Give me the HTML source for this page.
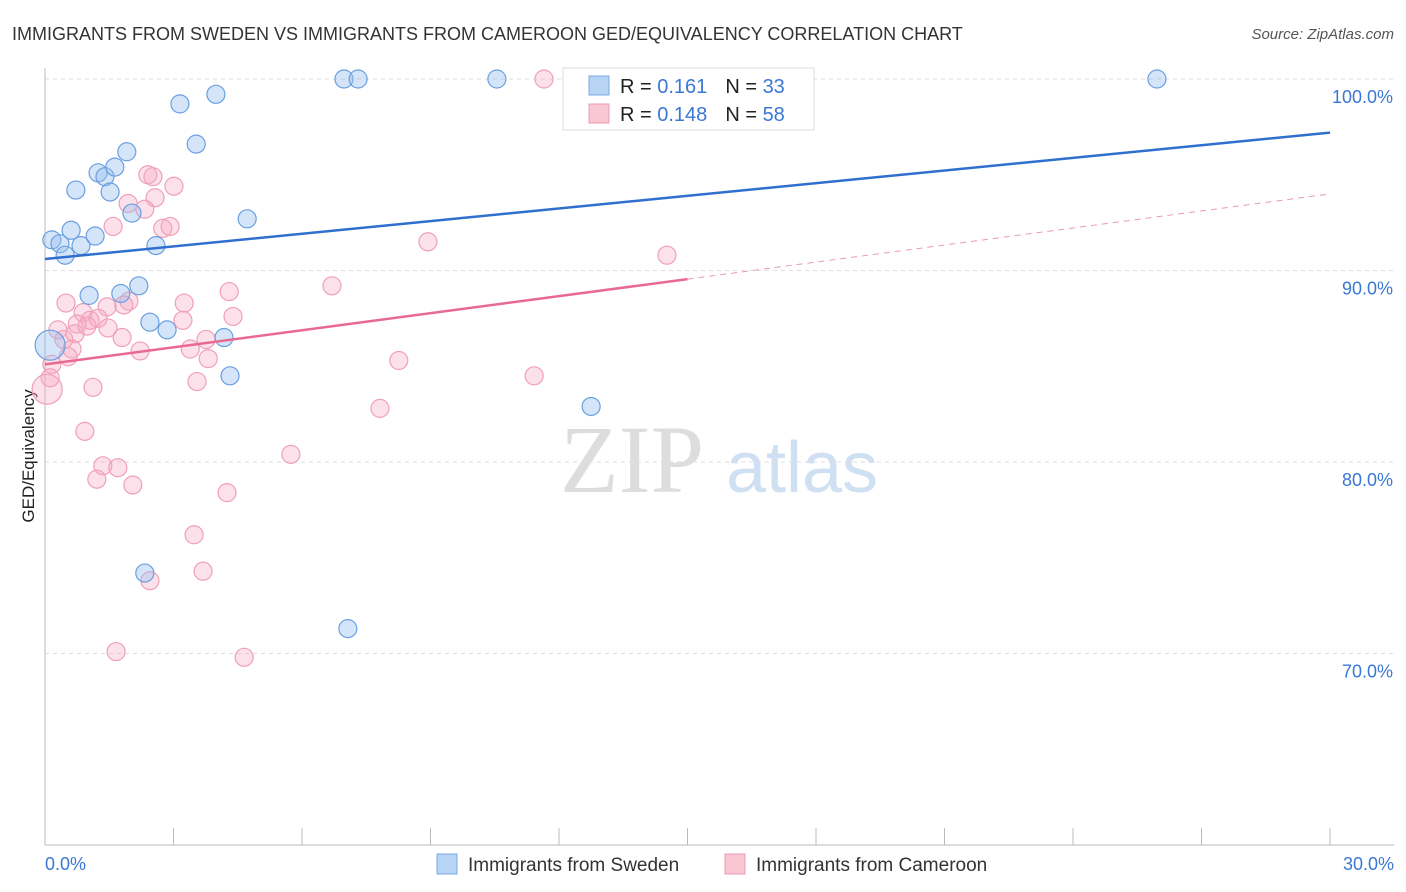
<!DOCTYPE html>
<html><head><meta charset="utf-8"><style>
body{margin:0;background:#fff;font-family:"Liberation Sans",sans-serif}
svg{display:block}
</style></head><body>
<svg id="chart" width="1406" height="892">
<text x="12" y="40" font-size="18" fill="#333">IMMIGRANTS FROM SWEDEN VS IMMIGRANTS FROM CAMEROON GED/EQUIVALENCY CORRELATION CHART</text>
<text x="1394" y="39" font-size="15" fill="#555" font-style="italic" text-anchor="end">Source: ZipAtlas.com</text>
<text x="34" y="456" font-size="17" fill="#222" text-anchor="middle" transform="rotate(-90 34 456)">GED/Equivalency</text>
<text x="632" y="492" font-size="96" fill="#ddd" font-family="Liberation Serif,serif" text-anchor="middle">ZIP</text>
<text x="802" y="492" font-size="72" fill="#cfe0f2" text-anchor="middle">atlas</text>
<g id="grid"></g><g id="axes"></g><g id="pts"></g><g id="lines"></g>
<g>
<rect x="563" y="68" width="251" height="62" fill="#fff" stroke="#ddd"/>
<rect x="589" y="76" width="20" height="19" fill="#b8d4f5" stroke="#7aa9e6"/>
<rect x="589" y="104" width="20" height="19" fill="#f9c6d4" stroke="#ee9ab2"/>
<text x="620" y="93" font-size="20" fill="#222">R = <tspan fill="#3a78d4"> 0.161</tspan><tspan dx="18">N = </tspan><tspan fill="#3a78d4">33</tspan></text>
<text x="620" y="121" font-size="20" fill="#222">R = <tspan fill="#3a78d4">0.148</tspan><tspan dx="18">N = </tspan><tspan fill="#3a78d4">58</tspan></text>
</g>
<g>
<rect x="437" y="854" width="20" height="20" fill="#b8d4f5" stroke="#7aa9e6"/>
<text x="468" y="871" font-size="19" fill="#333">Immigrants from Sweden</text>
<rect x="725" y="854" width="20" height="20" fill="#f9c6d4" stroke="#ee9ab2"/>
<text x="756" y="871" font-size="19" fill="#333">Immigrants from Cameroon</text>
</g>
</svg>
<script>
const xDomain=[0,30];
const yDomain=[60,100];
const yTicks=[100,90,80,70];
const yTickLabels=["100.0%","90.0%","80.0%","70.0%"];
const xEndLabels=["0.0%","30.0%"];
const swedenX=[0.16,0.35,0.47,0.61,0.84,1.17,0.72,1.24,1.40,1.52,1.63,1.91,2.03,2.59,3.15,3.99,3.53,4.72,6.98,7.31,10.55,25.96,1.03,1.77,2.19,2.45,2.85,4.18,4.32,12.75,2.33,7.07,0.12];
const swedenY=[91.6,91.4,90.8,92.1,91.3,91.8,94.2,95.1,94.9,94.1,95.4,96.2,93.0,91.3,98.7,99.2,96.6,92.7,100,100,100,100,88.7,88.8,89.2,87.3,86.9,86.5,84.5,82.9,74.2,71.3,86.1];
const cameroonX=[11.65,2.40,2.52,3.01,1.94,2.33,2.57,1.59,2.75,2.92,8.94,14.52,6.70,4.30,0.49,3.25,1.45,1.96,1.84,0.89,1.05,1.24,4.39,3.22,0.75,0.98,1.47,0.30,0.70,1.80,3.76,0.44,3.39,0.63,2.22,0.54,3.81,8.26,0.16,0.12,11.42,3.55,1.12,0.05,7.82,0.93,5.74,1.35,1.70,1.21,2.05,4.25,3.48,3.69,2.45,1.66,4.65];
const cameroonY=[100,95.0,94.9,94.4,93.5,93.2,93.8,92.3,92.2,92.3,91.5,90.8,89.2,88.9,88.3,88.3,88.1,88.4,88.2,87.8,87.4,87.5,87.6,87.4,87.2,87.1,87.0,86.9,86.7,86.5,86.4,86.4,85.9,85.9,85.8,85.5,85.4,85.3,85.1,84.4,84.5,84.2,83.9,83.8,82.8,81.6,80.4,79.8,79.7,79.1,78.8,78.4,76.2,74.3,73.8,70.1,69.8];
const swedenTrend=[90.6,97.2];
const cameroonTrend=[85.1,94.0];
const cameroonSolidEnd=15;
const X0=45,X1=1330,Y0=845,Y1=79;
const sx=v=>X0+(v-xDomain[0])/(xDomain[1]-xDomain[0])*(X1-X0);
const sy=v=>Y0-(v-yDomain[0])/(yDomain[1]-yDomain[0])*(Y0-Y1);
const NS="http://www.w3.org/2000/svg";
function mk(parent,tag,attrs){const e=document.createElementNS(NS,tag);for(const k in attrs)e.setAttribute(k,attrs[k]);document.getElementById(parent).appendChild(e);return e;}
yTicks.forEach((t,i)=>{
  const g=mk('grid','line',{x1:X0,x2:1394,y1:sy(t),y2:sy(t),stroke:'#ddd','stroke-dasharray':'4 4'});
  
  
  const l=mk('grid','text',{x:1393,y:sy(t)+24,'font-size':18,fill:'#3a78d4','text-anchor':'end'});
  l.textContent=yTickLabels[i];
  
  
});
const ax=mk('axes','line',{x1:X0,x2:X0,y1:68,y2:Y0,stroke:'#bbb'});


const bx=mk('axes','line',{x1:X0,x2:1394,y1:Y0,y2:Y0,stroke:'#bbb'});


for(let i=0;i<=10;i++){
  const v=xDomain[0]+i*(xDomain[1]-xDomain[0])/10;
  const t=mk('axes','line',{x1:sx(v),x2:sx(v),y1:828,y2:Y0,stroke:'#bbb'});
  
  
}
[[xDomain[0],'start',45],[xDomain[1],'end',1394]].forEach((p,i)=>{
  const t=mk('axes','text',{x:p[2],y:870,'font-size':18,fill:'#3a78d4','text-anchor':p[1]});
  t.textContent=xEndLabels[i];
  
  
});
function drawPts(xs,ys,fill,stroke,name){
  xs.forEach((x,i)=>{
    const big=(x<0.2&&(ys[i]>85.9&&ys[i]<86.2||ys[i]<84));
    const c=mk('pts','circle',{cx:sx(x),cy:sy(ys[i]),r:big?15:9,fill:fill,stroke:stroke,'stroke-width':1.2});
    
    
  });
}
drawPts(cameroonX,cameroonY,'rgba(246,170,195,0.35)','#f0a0b8','point-cameroon');
drawPts(swedenX,swedenY,'rgba(150,190,240,0.4)','#6a9fe0','point-sweden');
const bl=mk('lines','line',{x1:sx(0),y1:sy(swedenTrend[0]),x2:sx(30),y2:sy(swedenTrend[1]),stroke:'#2f6fd0','stroke-width':2.5});


const pm=cameroonTrend[0]+(cameroonTrend[1]-cameroonTrend[0])*cameroonSolidEnd/30;
const pl=mk('lines','line',{x1:sx(0),y1:sy(cameroonTrend[0]),x2:sx(cameroonSolidEnd),y2:sy(pm),stroke:'#e86a92','stroke-width':2.5});


const pd=mk('lines','line',{x1:sx(cameroonSolidEnd),y1:sy(pm),x2:sx(30),y2:sy(cameroonTrend[1]),stroke:'#e99ab2','stroke-width':1,'stroke-dasharray':'6 5'});


</script>
</body></html>
